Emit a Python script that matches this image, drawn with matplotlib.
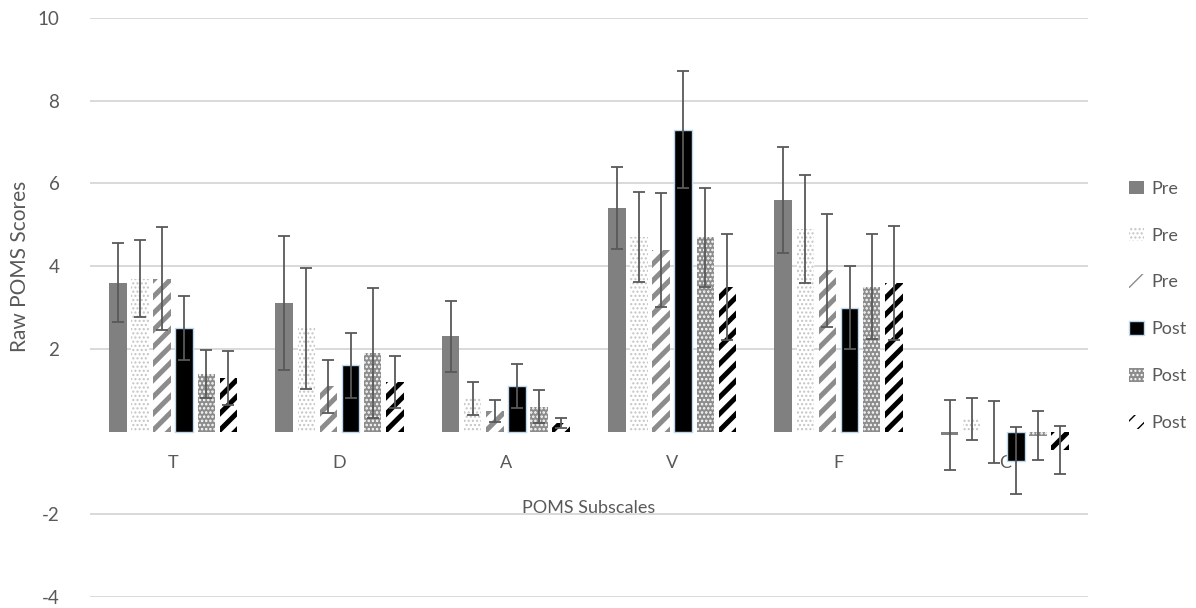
import matplotlib
matplotlib.use("Agg")
import matplotlib.pyplot as plt
from matplotlib.patches import Patch
import numpy as np

# categories and series
subscales = ["T", "D", "A", "V", "F", "C"]
series_names = ["Pre", "Pre", "Pre", "Post", "Post", "Post"]

s1_vals = [3.6, 3.1, 2.3, 5.4, 5.6, -0.08]
s1_err = [0.95, 1.62, 0.86, 0.99, 1.29, 0.85]
s2_vals = [3.7, 2.5, 0.8, 4.7, 4.9, 0.3]
s2_err = [0.93, 1.46, 0.41, 1.09, 1.31, 0.5]
s3_vals = [3.7, 1.1, 0.5, 4.4, 3.9, 0.0]
s3_err = [1.25, 0.64, 0.27, 1.38, 1.36, 0.75]
s4_vals = [2.5, 1.6, 1.1, 7.3, 3.0, -0.7]
s4_err = [0.78, 0.78, 0.53, 1.41, 1.0, 0.81]
s5_vals = [1.4, 1.9, 0.6, 4.7, 3.5, -0.1]
s5_err = [0.58, 1.57, 0.4, 1.2, 1.27, 0.59]
s6_vals = [1.3, 1.2, 0.2, 3.5, 3.6, -0.45]
s6_err = [0.66, 0.63, 0.12, 1.28, 1.38, 0.58]

values = [s1_vals, s2_vals, s3_vals, s4_vals, s5_vals, s6_vals]
errors = [s1_err, s2_err, s3_err, s4_err, s5_err, s6_err]

# bar styles: facecolor, edgecolor (= hatch colour), hatch, edge width, hatch width
styles = [
    dict(fc="#808080", ec="#808080", hatch=None, lw=0, hlw=1.0),
    dict(fc="white", ec="#c4c4c4", hatch="....", lw=0, hlw=1.0),
    dict(fc="white", ec="#8c8c8c", hatch="//", lw=0, hlw=3.6),
    dict(fc="black", ec="#bdd7ee", hatch=None, lw=1.0, hlw=1.0),
    dict(fc="#8c8c8c", ec="white", hatch="....", lw=0, hlw=1.2),
    dict(fc="white", ec="black", hatch="//", lw=0, hlw=3.6),
]

txt_col = "#595959"
plt.rcParams["font.family"] = ["Lato", "DejaVu Sans"]
plt.rcParams["axes.unicode_minus"] = False

fig = plt.figure(figsize=(11.96, 6.08), dpi=100)
ax = fig.add_axes([90 / 1196, 11 / 608, 998 / 1196, 579 / 608])

x = np.arange(len(subscales))
step = 0.133
width = 0.105

handles = []
for j in range(6):
    st = styles[j]
    with plt.rc_context({"hatch.linewidth": st["hlw"]}):
        bars = ax.bar(x + (j - 2.5) * step, values[j], width,
                      facecolor=st["fc"], edgecolor=st["ec"], hatch=st["hatch"],
                      linewidth=st["lw"], zorder=2)
        h = Patch(facecolor=st["fc"], edgecolor=st["ec"], hatch=st["hatch"],
                  linewidth=st["lw"], label=series_names[j])
        for b in list(bars) + [h]:
            if hasattr(b, "set_hatch_linewidth"):
                b.set_hatch_linewidth(st["hlw"])
    handles.append(h)
    ax.errorbar(x + (j - 2.5) * step, values[j], yerr=errors[j], fmt="none",
                ecolor="#595959", elinewidth=1.3, capsize=4.5, capthick=1.3, zorder=3)

ax.set_xlim(-0.5, 5.5)
ax.set_ylim(-4, 10)
ax.set_yticks([-4, -2, 2, 4, 6, 8, 10])
ax.yaxis.grid(True, color="#d9d9d9", linewidth=1.4, zorder=0)
ax.set_axisbelow(True)

for sp in ["top", "right", "left"]:
    ax.spines[sp].set_visible(False)
ax.spines["bottom"].set_position(("data", 0))
ax.spines["bottom"].set_visible(False)

ax.set_xticks(x)
ax.set_xticklabels(subscales)
ax.tick_params(axis="x", length=0, pad=17, labelsize=13, labelcolor=txt_col)
ax.tick_params(axis="y", length=0, pad=22, labelsize=13.5, labelcolor=txt_col)

ax.text(0.5, 0.154, "POMS Subscales", transform=ax.transAxes, ha="center",
        va="center", fontsize=13, color=txt_col)
fig.text(20 / 1196, 1 - 266 / 608, "Raw POMS Scores", rotation=90, ha="center",
         va="center", fontsize=15, color=txt_col)

fig.legend(handles=handles, loc="center left", bbox_to_anchor=(1113 / 1196, 0.497),
           frameon=False, fontsize=13, labelcolor=txt_col, handlelength=0.8,
           handleheight=0.8, handletextpad=0.4, labelspacing=1.7)

fig.savefig("out.png", dpi=100)
